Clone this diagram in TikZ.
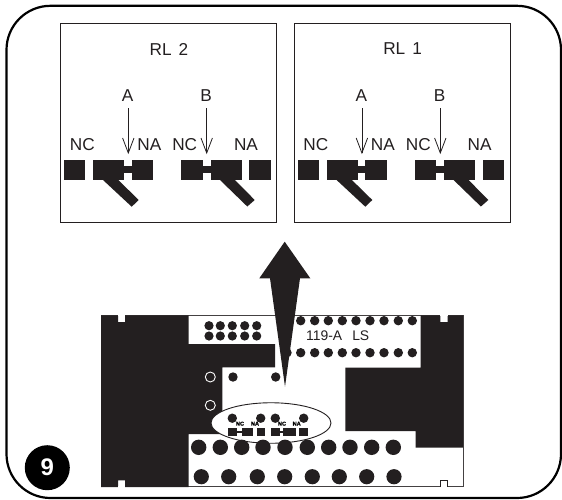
\documentclass[tikz,border=0pt]{standalone}
\usepackage{fontspec}
\setmainfont{Liberation Sans}
\newfontface\heavyface[FakeBold=1.5]{Liberation Sans Bold}
\definecolor{ink}{HTML}{231F20}
\tikzset{
  lbl/.style={font=\fontsize{17.2}{19}\selectfont,text=ink,inner sep=0pt,anchor=center},
  panel/.style={draw=ink,line width=0.9pt,fill=white},
  blk/.style={fill=ink,draw=none},
  pinarrow/.style={draw=ink,line width=0.8pt},
  tiny/.style={font=\fontsize{5.6}{6}\heavyface,text=black,inner sep=0pt},
}
\newcommand{\contactL}{%
  \fill[blk] (64,159.5) rectangle (85.3,180);
  \fill[blk] (93.3,159.5) rectangle (124,180);
  \fill[blk] (124,166) rectangle (131.7,172.7);
  \fill[blk] (131.7,159.5) rectangle (153.3,180);
  \fill[blk] (103,180) -- (118.3,180) -- (138.7,200) -- (131.7,206.7) -- cycle;
}
\newcommand{\contactR}{%
  \fill[blk] (181,159.5) rectangle (202.7,180);
  \fill[blk] (202.7,166) rectangle (210.7,172.7);
  \fill[blk] (210.7,159.5) rectangle (241.7,180);
  \fill[blk] (249.3,159.5) rectangle (270.7,180);
  \fill[blk] (220,180) -- (235,180) -- (254.7,200) -- (247.3,206.5) -- cycle;
}
\newcommand{\relaypanel}[4]{%
  \begin{scope}[xshift=#1pt]
    \node[panel,minimum width=216pt,minimum height=199pt,inner sep=0pt,anchor=north west] (#4box) at (60,22.5) {};
    \node[lbl] (#4title) at (169,49) {#2\hspace{7pt}#3};
    \node[lbl] (#4A) at (127.7,95.3) {A};
    \node[lbl] (#4B) at (206,95.3) {B};
    \node[lbl] (#4nca) at (82.3,145) {NC};
    \node[lbl] (#4naa) at (149.3,145) {NA};
    \node[lbl] (#4ncb) at (184.7,145) {NC};
    \node[lbl] (#4nab) at (246,145) {NA};
    \contactL
    \contactR
    \coordinate (#4At) at (128.3,108);
    \coordinate (#4Ah) at (128.3,153);
    \coordinate (#4Bt) at (206.7,108);
    \coordinate (#4Bh) at (206.7,153);
    \draw[pinarrow] (#4At) -- (#4Ah);
    \draw[pinarrow] ($(#4Ah)+(-5.7,-15)$) -- (#4Ah) -- ($(#4Ah)+(5.7,-15)$);
    \draw[pinarrow] (#4Bt) -- (#4Bh);
    \draw[pinarrow] ($(#4Bh)+(-5.7,-15)$) -- (#4Bh) -- ($(#4Bh)+(5.7,-15)$);
  \end{scope}}
\usetikzlibrary{calc,shapes.geometric}
\begin{document}
\begin{tikzpicture}[x=1pt,y=-1pt]
\useasboundingbox (0,0) rectangle (562,499);
\fill[white] (0,0) rectangle (562,499);
% outer frame
\draw[black,line width=2.2pt,rounded corners=44pt] (6.5,5.8) rectangle (561,498);
% relay panels
\relaypanel{0}{RL}{2}{p}
\relaypanel{233.6}{RL}{1}{q}
% board outline
\draw[ink!85,line width=0.9pt] (101,315.5) rectangle (463,486.7);
% black regions
\fill[blk] (101,315.3) -- (118,315.3) -- (118,322) -- (125,322) -- (125,315.3) -- (188.7,315.3)
  -- (188.7,344) -- (275,344) -- (275,367.3) -- (222.3,367.3) -- (222.3,434) -- (188.7,434)
  -- (188.7,487) -- (125,487) -- (125,480.3) -- (118,480.3) -- (118,487) -- (101,487) -- cycle;
\fill[blk] (420.7,315.3) -- (440.3,315.3) -- (440.3,322) -- (447.7,322) -- (447.7,315.3) -- (463,315.3)
  -- (463,447.7) -- (415.7,447.7) -- (415.7,431) -- (345.3,431) -- (345.3,367.7) -- (420.7,367.7) -- cycle;
\fill[white] (118,485.5) rectangle (125,488.5);
\fill[white] (118,314) rectangle (125,316);
\fill[white] (440.3,314) rectangle (447.7,316);
\draw[ink,line width=0.8pt] (440.3,487) -- (440.3,480.3) -- (447.7,480.3) -- (447.7,487);
\fill[white] (440.9,486) rectangle (447.1,488);
% upper dot block
\foreach \x in {209,220.3,232.3,244.7,256.7}
  \foreach \y in {325.7,336} \fill[blk] (\x,\y) circle[radius=4.6];
% right dot rows
\foreach \x in {300.7,314.7,328.3,342.3,356,370,384,398.3,412.3}
  \foreach \y in {320.7,352.7} \fill[blk] (\x,\y) circle[radius=4.7];
\fill[blk] (287,352.7) circle[radius=4.7];
\node[font=\fontsize{13.9}{15}\selectfont,text=ink,inner sep=0pt,anchor=west] (boardlabel) at (306,336) {119-A\hspace{10pt}LS};
% rings and dots
\draw[white,line width=0.9pt] (210.3,377) circle[radius=5];
\draw[white,line width=0.9pt] (210.3,405.3) circle[radius=5];
\fill[blk] (233,377) circle[radius=4.7];
\fill[blk] (275.7,377) circle[radius=4.7];
% ellipse
\node[ellipse,draw=ink,fill=white,line width=0.9pt,minimum width=120pt,minimum height=40.5pt,inner sep=0pt] (zone) at (271,423) {};
\foreach \x in {232.3,260.7,275.3,303.7} \fill[blk] (\x,418.2) circle[radius=4.7];
\foreach \a/\b in {228.3/237.3,241.7/253.3,256.7/265.3,271/280,283.3/296,299.3/308.3}
  \fill[blk] (\a,428.3) rectangle (\b,435.9);
\fill[blk] (237.3,431) rectangle (241.7,433.2);
\fill[blk] (280,431) rectangle (283.3,433.2);
\node[tiny] (za) at (240,423.7) {NC};
\node[tiny] (zb) at (255,423.7) {NA};
\node[tiny] (zc) at (282,423.7) {NC};
\node[tiny] (zd) at (296.7,423.7) {NA};
% large dot rows
\foreach \x in {198.7,220.3,241.7,263,285,307.3,328.7,350,371.7,393.3}
  \fill[blk] (\x,447.3) circle[radius=7.7];
\foreach \x in {201.3,228.7,257.3,284.7,312.3,339.3,366.7,394}
  \fill[blk] (\x,476.7) circle[radius=7.6];
% big arrow
\fill[blk] (284.7,241.7) -- (310.3,278.3) -- (300,278.3) -- (285,386.7) -- (270,278.3) -- (259.3,278.3) -- cycle;
% badge
\node[circle,fill=black,minimum size=45pt,inner sep=0pt,text=white,font=\fontsize{24}{26}\bfseries\selectfont] (badge) at (47.3,467.7) {9};
\end{tikzpicture}
\end{document}
